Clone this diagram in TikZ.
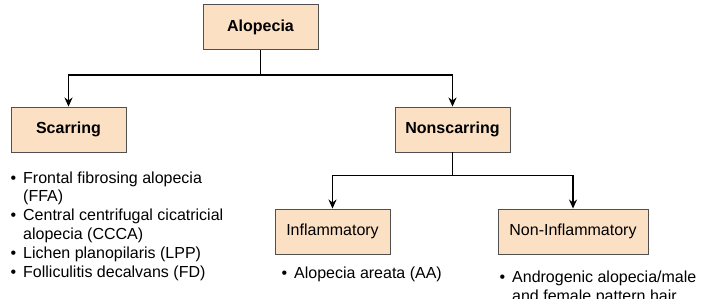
\documentclass[tikz,border=0pt]{standalone}
\usepackage{fontspec}
\setmainfont{Liberation Sans}
\usepackage{tikz}
\usetikzlibrary{arrows.meta, positioning}

\definecolor{peach}{HTML}{FBE0C4}
\definecolor{boxline}{HTML}{505050}

\begin{document}
\begin{tikzpicture}[
    x=1pt, y=-1pt,
    box/.style={rectangle, draw=boxline, line width=0.9pt, fill=peach, minimum width=115pt, minimum height=45pt, align=center, font=\fontsize{16}{19}\selectfont},
    head/.style={box, font=\fontsize{16}{19}\selectfont\bfseries},
    items/.style={anchor=base west, align=left, inner sep=0pt, font=\fontsize{16}{18.8}\selectfont},
    arrow/.style={-{Stealth[length=9pt, width=8pt]}, line width=1.4pt}
]
\clip (0,0) rectangle (705,298);
\useasboundingbox (0,0) rectangle (705,298);

% Boxes
\node[head] (alop) at (260.5, 27) {Alopecia};
\node[head] (scar) at (68.5, 129.5) {Scarring};
\node[head] (nonscar) at (452.5, 129.5) {Nonscarring};
\node[box] (infl) at (332.5, 231.5) {Inflammatory};
\node[box, minimum width=150pt] (noninfl) at (573, 231.5) {Non-Inflammatory};

% Lists (placed at the baseline of their last line)
\newcommand{\bul}{\llap{\textbullet\hspace{7pt}}}
\node[items] (scarlist) at (23, 277) {\bul Frontal fibrosing alopecia\\(FFA)\\
  \bul Central centrifugal cicatricial\\alopecia (CCCA)\\
  \bul Lichen planopilaris (LPP)\\\bul Folliculitis decalvans (FD)};
\node[items] (infllist) at (294, 278) {\bul Alopecia areata (AA)};
\node[items] (noninfllist) at (512, 301) {\bul Androgenic alopecia/male\\and female pattern hair};

% Arrows
\draw[arrow] (alop.south) -- ++(0, 25) -| (scar.north);
\draw[arrow] (alop.south) -- ++(0, 25) -| (nonscar.north);
\draw[arrow] (nonscar.south) -- ++(0, 23) -| (infl.north);
\draw[arrow] (nonscar.south) -- ++(0, 23) -| (noninfl.north);

\end{tikzpicture}
\end{document}
